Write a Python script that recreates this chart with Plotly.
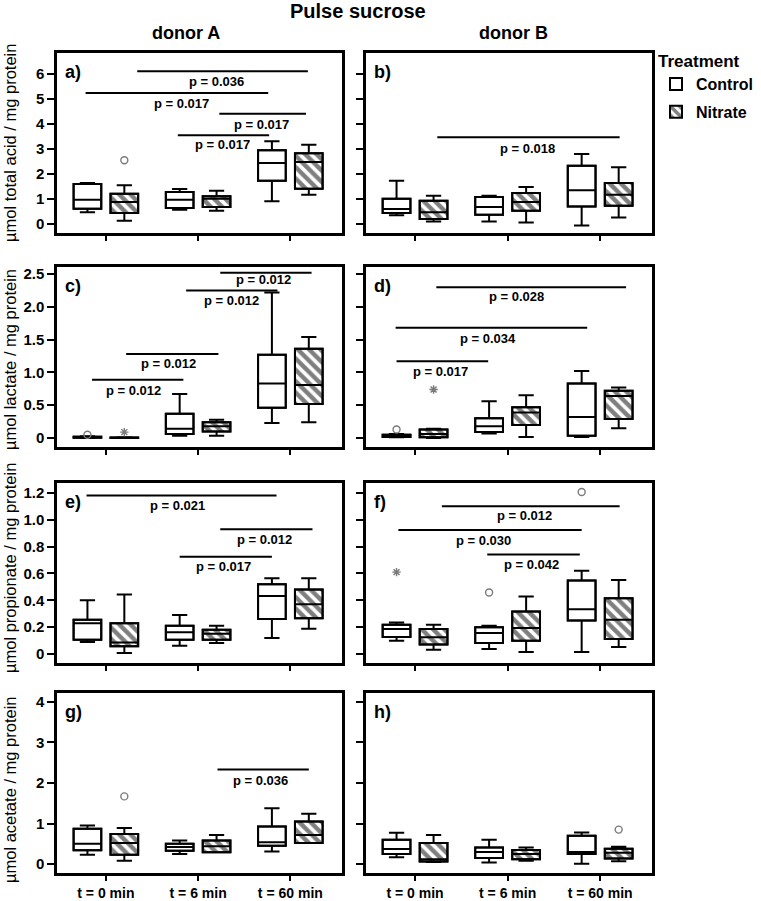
"""Pulse sucrose: organic acids per mg protein, donors A and B, boxplots with p-value brackets."""
import plotly.graph_objects as go

W, H = 761, 901
FONT = "Arial, Liberation Sans, sans-serif"

TIMES = ["t = 0 min", "t = 6 min", "t = 60 min"]
TREATMENTS = ["Control", "Nitrate"]

# each entry: [lower whisker, Q1, median, Q3, upper whisker] for t = 0, 6, 60 min
A_ACID_CONTROL = [[0.47, 0.61, 0.97, 1.60, 1.64], [0.57, 0.64, 0.97, 1.28, 1.40], [0.91, 1.73, 2.44, 2.95, 3.31]]
A_ACID_NITRATE = [[0.13, 0.44, 0.88, 1.21, 1.55], [0.53, 0.68, 1.01, 1.11, 1.33], [1.17, 1.41, 2.48, 2.83, 3.17]]
B_ACID_CONTROL = [[0.35, 0.44, 0.60, 1.01, 1.73], [0.10, 0.37, 0.68, 1.08, 1.13], [-0.06, 0.70, 1.35, 2.33, 2.80]]
B_ACID_NITRATE = [[0.10, 0.20, 0.47, 0.93, 1.13], [0.06, 0.53, 0.88, 1.24, 1.48], [0.26, 0.73, 1.17, 1.64, 2.27]]

A_LACT_CONTROL = [[0.0, 0.005, 0.01, 0.02, 0.025], [0.035, 0.06, 0.14, 0.37, 0.67], [0.23, 0.46, 0.83, 1.27, 2.22]]
A_LACT_NITRATE = [[0.0, 0.0, 0.003, 0.008, 0.01], [0.035, 0.10, 0.18, 0.24, 0.28], [0.24, 0.52, 0.81, 1.36, 1.54]]
B_LACT_CONTROL = [[0.01, 0.015, 0.03, 0.05, 0.06], [0.07, 0.09, 0.18, 0.30, 0.56], [0.015, 0.035, 0.32, 0.83, 1.02]]
B_LACT_NITRATE = [[0.0, 0.01, 0.06, 0.13, 0.14], [0.015, 0.20, 0.39, 0.47, 0.65], [0.15, 0.29, 0.64, 0.72, 0.77]]

A_PROP_CONTROL = [[0.089, 0.106, 0.23, 0.255, 0.40], [0.062, 0.106, 0.163, 0.21, 0.29], [0.119, 0.26, 0.433, 0.52, 0.564]]
A_PROP_NITRATE = [[0.007, 0.057, 0.085, 0.23, 0.443], [0.082, 0.106, 0.15, 0.18, 0.21], [0.188, 0.267, 0.37, 0.48, 0.564]]
B_PROP_CONTROL = [[0.099, 0.126, 0.186, 0.218, 0.235], [0.037, 0.082, 0.156, 0.20, 0.21], [0.015, 0.25, 0.334, 0.547, 0.62]]
B_PROP_NITRATE = [[0.032, 0.07, 0.124, 0.186, 0.218], [0.015, 0.099, 0.193, 0.317, 0.428], [0.052, 0.111, 0.255, 0.416, 0.552]]

A_ACET_CONTROL = [[0.23, 0.34, 0.50, 0.87, 0.95], [0.25, 0.33, 0.42, 0.50, 0.58], [0.31, 0.45, 0.54, 0.93, 1.38]]
A_ACET_NITRATE = [[0.08, 0.23, 0.52, 0.74, 0.89], [0.29, 0.29, 0.44, 0.58, 0.72], [0.52, 0.52, 0.72, 1.05, 1.24]]
B_ACET_CONTROL = [[0.17, 0.25, 0.37, 0.60, 0.77], [0.04, 0.15, 0.30, 0.41, 0.60], [0.01, 0.25, 0.30, 0.70, 0.78]]
B_ACET_NITRATE = [[0.05, 0.065, 0.12, 0.52, 0.72], [0.08, 0.12, 0.25, 0.35, 0.41], [0.07, 0.14, 0.28, 0.38, 0.43]]

# outliers: (time index, treatment, value, kind)
A_ACID_OUT = [(0, "Nitrate", 2.55, "o")]
B_ACID_OUT = []
A_LACT_OUT = [(0, "Control", 0.05, "o"), (0, "Nitrate", 0.09, "*")]
B_LACT_OUT = [(0, "Control", 0.13, "o"), (0, "Nitrate", 0.74, "*")]
A_PROP_OUT = []
B_PROP_OUT = [(0, "Control", 0.61, "*"), (1, "Control", 0.458, "o"), (2, "Control", 1.207, "o")]
A_ACET_OUT = [(0, "Nitrate", 1.67, "o")]
B_ACET_OUT = [(2, "Nitrate", 0.85, "o")]

# significance brackets: (x from, x to, line y, label, label x, label y)
A_ACID_P = [(0.34, 2.19, 6.11, "p = 0.036", 1.20, 5.71), (-0.22, 1.76, 5.24, "p = 0.017", 0.82, 4.81),
            (1.23, 2.17, 4.41, "p = 0.017", 1.69, 3.97), (0.78, 1.77, 3.55, "p = 0.017", 1.26, 3.17)]
B_ACID_P = [(0.24, 2.21, 3.47, "p = 0.018", 1.22, 3.01)]
A_LACT_P = [(1.24, 2.23, 2.52, "p = 0.012", 1.71, 2.41), (0.87, 1.86, 2.25, "p = 0.012", 1.36, 2.10),
            (0.22, 1.22, 1.28, "p = 0.012", 0.68, 1.13), (-0.15, 0.84, 0.89, "p = 0.012", 0.30, 0.73)]
B_LACT_P = [(0.23, 2.28, 2.30, "p = 0.028", 1.10, 2.15), (-0.21, 1.86, 1.68, "p = 0.034", 0.79, 1.52),
            (-0.20, 0.79, 1.17, "p = 0.017", 0.27, 1.01)]
A_PROP_P = [(-0.21, 1.85, 1.18, "p = 0.021", 0.78, 1.108), (1.24, 2.24, 0.93, "p = 0.012", 1.72, 0.856),
            (0.80, 1.80, 0.725, "p = 0.017", 1.28, 0.651)]
B_PROP_P = [(0.29, 2.21, 1.10, "p = 0.012", 1.18, 1.034), (-0.18, 1.80, 0.923, "p = 0.030", 0.74, 0.844),
            (0.78, 1.78, 0.742, "p = 0.042", 1.26, 0.668)]
A_ACET_P = [(1.21, 2.20, 2.33, "p = 0.036", 1.68, 2.06)]
B_ACET_P = []

Y_TITLES = ["µmol total acid / mg protein", "µmol lactate / mg protein",
            "µmol propionate / mg protein", "µmol acetate / mg protein"]
Y_TICKS = [[0, 1, 2, 3, 4, 5, 6], [0, 0.5, 1.0, 1.5, 2.0, 2.5],
           [0, 0.2, 0.4, 0.6, 0.8, 1.0, 1.2], [0, 1, 2, 3, 4]]
Y_TICKTEXT = [["0", "1", "2", "3", "4", "5", "6"], ["0", "0.5", "1.0", "1.5", "2.0", "2.5"],
              ["0", "0.2", "0.4", "0.6", "0.8", "1.0", "1.2"], ["0", "1", "2", "3", "4"]]
Y_RANGES = [[-0.36, 6.84], [-0.137, 2.607], [-0.067, 1.274], [-0.22, 4.22]]

PANELS = [
    ("a)", A_ACID_CONTROL, A_ACID_NITRATE, A_ACID_OUT, A_ACID_P),
    ("b)", B_ACID_CONTROL, B_ACID_NITRATE, B_ACID_OUT, B_ACID_P),
    ("c)", A_LACT_CONTROL, A_LACT_NITRATE, A_LACT_OUT, A_LACT_P),
    ("d)", B_LACT_CONTROL, B_LACT_NITRATE, B_LACT_OUT, B_LACT_P),
    ("e)", A_PROP_CONTROL, A_PROP_NITRATE, A_PROP_OUT, A_PROP_P),
    ("f)", B_PROP_CONTROL, B_PROP_NITRATE, B_PROP_OUT, B_PROP_P),
    ("g)", A_ACET_CONTROL, A_ACET_NITRATE, A_ACET_OUT, A_ACET_P),
    ("h)", B_ACET_CONTROL, B_ACET_NITRATE, B_ACET_OUT, B_ACET_P),
]

# layout in pixels of the 761x901 page
COL_PX = [(57, 342), (366, 652)]
ROW_PX = [(53, 233), (267, 447), (483, 663), (693, 873)]
YTITLE_PX = [143, 360, 568, 790]
OFFSET = {"Control": -0.2, "Nitrate": 0.2}
BOX_W = 0.3
X_RANGE = [-0.53, 2.56]

fig = go.Figure()
annotations, shapes = [], []

for k, (letter, ctrl, nitr, outs, brackets) in enumerate(PANELS):
    row, col = divmod(k, 2)
    sfx = "" if k == 0 else str(k + 1)
    xa, ya = "x" + sfx, "y" + sfx

    for name, stats in (("Control", ctrl), ("Nitrate", nitr)):
        xs = [g + OFFSET[name] for g in range(3)]
        lo, q1, med, q3, hi = (list(v) for v in zip(*stats))
        # bar underneath carries the fill (hatched for nitrate); box on top draws outline/median/whiskers
        fig.add_trace(go.Bar(
            x=xs, y=[b - a for a, b in zip(q1, q3)], base=q1, width=BOX_W,
            name=name, legendgroup=name, showlegend=(k == 0),
            marker=dict(color="white", line=dict(color="black", width=2),
                        pattern=dict(shape="\\" if name == "Nitrate" else "", fgcolor="black",
                                     bgcolor="white", size=8, solidity=0.55)),
            xaxis=xa, yaxis=ya, hoverinfo="skip",
        ))
        fig.add_trace(go.Box(
            x=xs, lowerfence=lo, q1=q1, median=med, q3=q3, upperfence=hi,
            width=BOX_W, whiskerwidth=0.55, boxpoints=False,
            fillcolor="rgba(0,0,0,0)", line=dict(color="black", width=2),
            showlegend=False, xaxis=xa, yaxis=ya, hoverinfo="skip",
        ))

    if outs:
        fig.add_trace(go.Scatter(
            x=[g + OFFSET[t] for g, t, _, _ in outs], y=[v for _, _, v, _ in outs],
            mode="markers", showlegend=False, xaxis=xa, yaxis=ya, hoverinfo="skip",
            marker=dict(symbol=["circle-open" if s == "o" else "asterisk-open" for *_, s in outs],
                        size=7, color="#7a7a7a", line=dict(color="#7a7a7a", width=1.4)),
        ))

    for x0, x1, yl, label, lx, ly in brackets:
        shapes.append(dict(type="line", xref=xa, yref=ya, x0=x0, x1=x1, y0=yl, y1=yl,
                           line=dict(color="black", width=2)))
        annotations.append(dict(xref=xa, yref=ya, x=lx, y=ly, text=label, showarrow=False,
                                font=dict(size=13, weight="bold")))

    annotations.append(dict(xref=xa + " domain", yref=ya + " domain", x=0.022, y=0.894,
                            xanchor="left", yanchor="middle", text=letter, showarrow=False,
                            font=dict(size=18, weight="bold")))

    cx0, cx1 = COL_PX[col]
    ry0, ry1 = ROW_PX[row]
    fig.layout["xaxis" + sfx] = dict(
        domain=[cx0 / W, cx1 / W], range=X_RANGE, anchor=ya, automargin=False,
        tickvals=[0, 1, 2], ticktext=TIMES, showticklabels=(row == 3),
        ticks="outside", ticklen=5, tickwidth=2, tickcolor="black",
        showline=True, linecolor="black", linewidth=2.5, mirror=True,
        showgrid=False, zeroline=False, fixedrange=True,
        tickfont=dict(size=14, weight="bold"),
    )
    fig.layout["yaxis" + sfx] = dict(
        domain=[1 - ry1 / H, 1 - ry0 / H], range=Y_RANGES[row], anchor=xa, automargin=False,
        tickvals=Y_TICKS[row], ticktext=Y_TICKTEXT[row], showticklabels=(col == 0),
        ticks="outside", ticklen=7, tickwidth=2, tickcolor="black",
        showline=True, linecolor="black", linewidth=2.5, mirror=True,
        showgrid=False, zeroline=False, fixedrange=True,
        tickfont=dict(size=15, weight="bold"),
    )

for row, title in enumerate(Y_TITLES):
    annotations.append(dict(xref="paper", yref="paper", x=10 / W, y=1 - YTITLE_PX[row] / H,
                            text=title, textangle=-90, showarrow=False,
                            xanchor="center", yanchor="middle", font=dict(size=16.5)))

annotations += [
    dict(xref="paper", yref="paper", x=358 / W, y=1 - 11 / H, text="Pulse sucrose", showarrow=False,
         xanchor="center", yanchor="middle", font=dict(size=20, weight="bold")),
    dict(xref="paper", yref="paper", x=186 / W, y=1 - 33 / H, text="donor A", showarrow=False,
         xanchor="center", yanchor="middle", font=dict(size=18, weight="bold")),
    dict(xref="paper", yref="paper", x=513 / W, y=1 - 33 / H, text="donor B", showarrow=False,
         xanchor="center", yanchor="middle", font=dict(size=18, weight="bold")),
]

fig.update_layout(
    width=W, height=H, margin=dict(l=0, r=0, t=0, b=0, autoexpand=False),
    paper_bgcolor="white", plot_bgcolor="white",
    font=dict(family=FONT, color="black"),
    barmode="overlay", boxmode="overlay",
    annotations=annotations, shapes=shapes,
    legend=dict(x=656 / W, y=1 - 45 / H, xanchor="left", yanchor="top",
                title=dict(text="Treatment", font=dict(size=17, weight="bold"), side="top"),
                font=dict(size=16, weight="bold"), itemwidth=30, tracegroupgap=4,
                bgcolor="rgba(0,0,0,0)"),
)

# the page body has a default 8px margin; drop it so the figure fills the window exactly
fig.write_html("out.html", config={"displayModeBar": False},
               post_script="document.body.style.margin='0';")
